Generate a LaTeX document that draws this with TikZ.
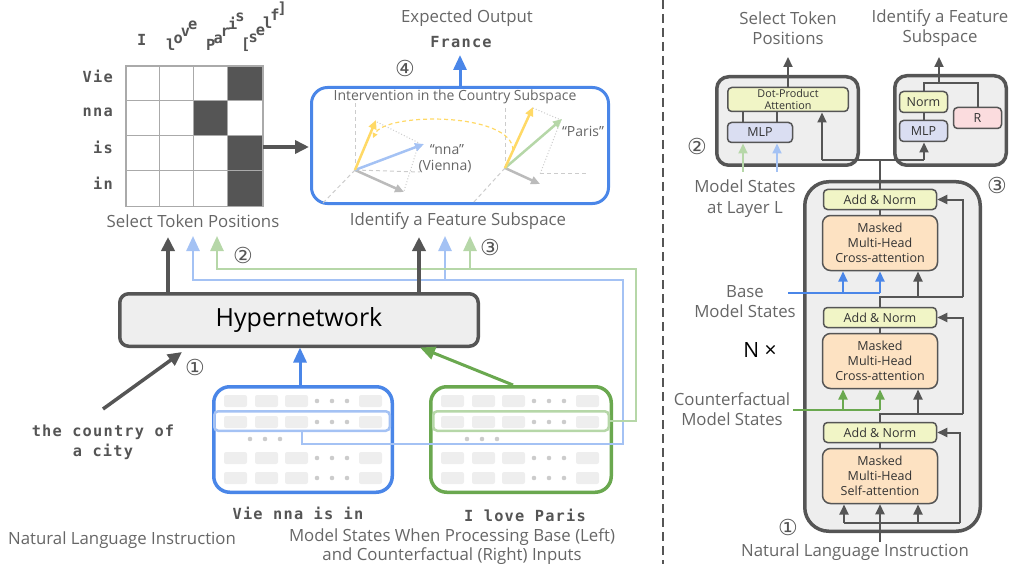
\documentclass[tikz,border=0pt]{standalone}
\usepackage{fontspec}
\setmainfont{Open Sans}
\newfontfamily\monof[LetterSpace=8]{DejaVu Sans Mono}
\newfontfamily\symf{DejaVu Sans}
\usetikzlibrary{arrows.meta}
\definecolor{dg}{HTML}{555555}
\definecolor{tg}{HTML}{666666}
\definecolor{bl}{HTML}{4A86E8}
\definecolor{lbl}{HTML}{A4C2F4}
\definecolor{gr}{HTML}{6AA84F}
\definecolor{lgr}{HTML}{B6D7A8}
\definecolor{yl}{HTML}{FFD966}
\definecolor{boxbg}{HTML}{EEEEEE}
\definecolor{ylbox}{HTML}{F1F5C6}
\definecolor{mlpbox}{HTML}{DADEF2}
\definecolor{rbox}{HTML}{FBDCDE}
\definecolor{orbox}{HTML}{FDE2C2}
\definecolor{cellc}{HTML}{EEEEEE}
\definecolor{dotc}{HTML}{CCCCCC}
\definecolor{gridc}{HTML}{AAAAAA}
\definecolor{vecg}{HTML}{BBBBBB}
\definecolor{axc}{HTML}{CCCCCC}
\begin{document}
\begin{tikzpicture}[x=1pt,y=-1pt,
  lab/.style={text=tg,font=\fontsize{16.8}{20}\selectfont,align=center,inner sep=0pt},
  slab/.style={text=tg,font=\fontsize{14}{16}\selectfont,align=center,inner sep=0pt},
  mono/.style={text=dg,font=\monof\bfseries\fontsize{15.3}{20}\selectfont,align=center,inner sep=0pt},
  num/.style={text=dg,font=\symf\fontsize{22}{22}\selectfont,inner sep=0pt},
  bigbox/.style={draw=dg,line width=3.5pt,fill=boxbg,inner sep=0pt},
  blk/.style={draw=dg,line width=1.5pt,rounded corners=4pt,text=black!80,font=\fontsize{12.5}{15}\selectfont,align=center,inner sep=0pt},
  ylb/.style={blk,fill=ylbox},
  mlpb/.style={blk,fill=mlpbox},
  orb/.style={blk,fill=orbox,rounded corners=8pt},
  rb/.style={blk,fill=rbox},
  darr/.style={draw=dg,line width=3.5pt,-{Triangle[length=14pt,width=13pt]}},
  barr/.style={draw=bl,line width=3pt,-{Triangle[length=15pt,width=13pt]}},
  garr/.style={draw=gr,line width=3pt,-{Triangle[length=15pt,width=13pt]}},
  lbline/.style={draw=lbl,line width=2.5pt},
  lgline/.style={draw=lgr,line width=2.5pt},
  ltip/.style={-{Triangle[length=15pt,width=13pt]}},
  sarr/.style={draw=dg,line width=2pt,-{Triangle[length=10pt,width=9pt]}},
  stip/.style={line width=2pt,-{Triangle[length=10pt,width=9pt]}},
  sline/.style={draw=dg,line width=2pt},
  statebox/.style={line width=3.5pt,rounded corners=16pt,minimum height=105.5pt,inner sep=0pt},
  hrow/.style={line width=2.5pt,rounded corners=4pt,minimum width=175.5pt,minimum height=19.5pt,inner sep=0pt},
  cellb/.style={fill=cellc,rounded corners=2pt},
  axisl/.style={draw=axc,line width=1pt,dash pattern=on 4pt off 3pt},
  dotl/.style={draw=axc,line width=1pt,dash pattern=on 1pt off 2pt},
  vecl/.style={line width=2.5pt,-{Triangle[length=9pt,width=8pt]}},
  dch/.style={mono,anchor=base west}
]
\useasboundingbox (0,0) rectangle (1011,564);

% ---------------- grid ----------------
\fill[dg] (227.7,65.5) rectangle (262.3,100.5);
\fill[dg] (193.3,100.5) rectangle (227.7,135.5);
\fill[dg] (227.7,135.5) rectangle (262.3,205.5);
\foreach \x in {159.3,193.3,227.7} \draw[gridc,line width=1.5pt] (\x,65.5)--(\x,205.5);
\foreach \y in {100.5,135.5,170.5} \draw[gridc,line width=1.5pt] (125,\y)--(262.3,\y);
\node[draw=gridc,line width=1.5pt,minimum width=137.3pt,minimum height=140pt,inner sep=0pt,anchor=north west] (grid) at (125,65.5) {};
\node[mono,anchor=east] (rvie) at (113,76) {Vie};
\node[mono,anchor=east] (rnna) at (113,112) {nna};
\node[mono,anchor=east] (ris) at (113,147) {is};
\node[mono,anchor=east] (rin) at (113,183) {in};
% diagonal column labels (letters set along a 45 degree line)
\node[dch] (ci) at (137,46) {I};
\foreach \c [count=\i from 0] in {l,o,v,e}
  \node[dch,name=clove\i] at ({166+7.3*\i},{51-7.3*\i}) {\c};
\foreach \c [count=\i from 0] in {P,a,r,i,s}
  \node[dch,name=cparis\i] at ({206+7.3*\i},{51-7.3*\i}) {\c};
\foreach \c [count=\i from 0] in {{[},s,e,l,f,{]}}
  \node[dch,name=cself\i] at ({241+7.3*\i},{50-7.3*\i}) {\c};
\node[lab] (selt) at (193,221) {Select Token Positions};

% ---------------- intervention ----------------
\node[draw=bl,line width=3pt,rounded corners=16pt,minimum width=297pt,minimum height=116pt,inner sep=0pt] (interv) at (460,145.5) {};
\node[slab] (ititle) at (455,97) {Intervention in the Country Subspace};
\node[lab] (idt) at (458,221) {Identify a Feature Subspace};
\node[lab] (expo) at (467,18) {Expected Output};
\node[mono] (france) at (461,42) {France};
\node[num] (n4) at (405,68) {④};
\draw[barr] (interv.north) -- (460,55);
\draw[darr] (263,147) -- (309,147);

% vectors left
\coordinate (o1) at (355,170);
\draw[axisl] (o1) -- (355,102);
\draw[axisl] (o1) -- (420,172);
\draw[axisl] (o1) -- (322,204);
\draw[dotl] (377,122) -- (419,143) -- (404,191);
\draw[vecl,vecg] (o1) -- (404,192);
\draw[vecl,lbl] (o1) -- (424,144);
\draw[vecl,yl] (o1) -- (376,120);
% vectors right
\coordinate (o2) at (505,168);
\draw[axisl] (o2) -- (505,106);
\draw[axisl] (o2) -- (473,203);
\draw[axisl] (540,174) -- (588,174);
\draw[dotl] (533,108) -- (561,120) -- (540,174);
\draw[vecl,vecg] (o2) -- (540,184);
\draw[vecl,lgr] (o2) -- (562,119);
\draw[vecl,yl] (o2) -- (533,107);
\draw[yl,line width=1.2pt,dash pattern=on 4pt off 3pt,-{Triangle[length=5pt,width=5pt]}] (513,150) .. controls (512,112) and (385,112) .. (373,138);
\node[slab] (lnna) at (447,150) {“nna”};
\node[slab] (lvie) at (445,166) {(Vienna)};
\node[slab] (lpar) at (583,131) {“Paris”};

% ---------------- hypernetwork ----------------
\node[bigbox,rounded corners=9pt,minimum width=358.5pt,minimum height=52.5pt,font=\fontsize{25}{30}\selectfont,text=black] (hyper) at (299,320) {Hypernetwork};

% state boxes
\node[statebox,draw=bl,minimum width=178.5pt] (base) at (303,439.5) {};
\node[statebox,draw=gr,minimum width=180.5pt] (cf) at (521,439.5) {};
\foreach \dx in {0,217} {
  \foreach \y in {401,422,458,478} {
    \foreach \x in {224,255,285,359} \fill[cellb] (\x+\dx,\y-6) rectangle ++(23,12);
    \foreach \x in {317,332,347} \fill[dotc] (\x+\dx,\y) circle (2.3pt);
  }
  \foreach \x in {250,265,280} \fill[dotc] (\x+\dx,439) circle (2.3pt);
}
\node[hrow,draw=lbl] (brow) at (302,421) {};
\node[hrow,draw=lgr] (crow) at (521,421) {};

% light connectors
\draw[lbline,ltip] (brow.south) -- (302,444) -- (623,444) -- (623,280) -- (193,280) -- (193,236);
\draw[lbline,ltip] (445,280) -- (445,236);
\draw[lgline,ltip] (crow.east) -- (636,421) -- (636,269) -- (217,269) -- (217,236);
\draw[lgline,ltip] (470,269) -- (470,236);
\draw[darr] (168,294) -- (168,237);
\draw[darr] (419,294) -- (419,237);
\draw[barr] (300,385) -- (300,347.5);
\draw[garr] (513,385) -- (420,347.5);
\node[num] (n2) at (243,255) {②};
\node[num] (n3) at (490,247) {③};

\node[mono] (vtxt) at (298,513) {Vie nna is in};
\node[mono] (itxt) at (525,515) {I love Paris};
\node[lab,font=\fontsize{16.8}{19}\selectfont] (mst) at (452,546.5) {Model States When Processing Base (Left)\\and Counterfactual (Right) Inputs};
\node[lab,anchor=west] (nli) at (8,540) {Natural Language Instruction};
\node[mono] (instr) at (103,442) {the country of\\a city};
\coordinate (instrtop) at (103,409);
\draw[darr] (instrtop) -- (182,352);
\node[num] (n1) at (195,367) {①};

% separator
\draw[dg,line width=1.5pt,dash pattern=on 9pt off 5pt] (663,0) -- (663,564);

% ---------------- right panel ----------------
\node[lab] (rsel) at (788,28) {Select Token\\Positions};
\node[lab] (rid) at (940,28) {Identify a Feature\\Subspace};

\node[bigbox,rounded corners=12pt,minimum width=141.5pt,minimum height=88.5pt] (lbx) at (787.5,121) {};
\node[ylb,minimum width=120.5pt,minimum height=24pt,font=\fontsize{10.8}{12}\selectfont] (dpa) at (788,99.5) {Dot-Product\\Attention};
\node[mlpb,minimum width=65pt,minimum height=20pt] (mlp1) at (760,132.5) {MLP};
\draw[sline] (743,122) -- (743,112);
\draw[sline] (777,122) -- (777,112);
\draw[sarr] (dpa.north) -- (788,57);
\draw[stip,lgr] (743,172) -- (743,143.5);
\draw[stip,lbl] (777,172) -- (777,143.5);
\node[num] (rn2) at (697,146) {②};
\node[lab,font=\fontsize{16.8}{21}\selectfont] (rms) at (745,199) {Model States\\at Layer L};

\node[bigbox,rounded corners=12pt,minimum width=111.5pt,minimum height=89.5pt] (rbx) at (950.5,120.5) {};
\node[ylb,minimum width=48pt,minimum height=21pt] (norm) at (923.5,102) {Norm};
\node[mlpb,minimum width=48pt,minimum height=21pt] (mlp2) at (923.5,131) {MLP};
\node[rb,minimum width=48pt,minimum height=21pt] (rr) at (977.5,118) {R};
\draw[sline] (mlp2.north) -- (norm.south);
\draw[sline] (norm.north) -- (923.5,83) -- (977.5,83) -- (rr.north);
\draw[sarr] (939,83) -- (939,57);

\node[bigbox,rounded corners=24pt,minimum width=175.5pt,minimum height=349.5pt] (tb) at (892.5,356.5) {};
\node[ylb,minimum width=113pt,minimum height=20pt] (an1) at (880,199.5) {Add \& Norm};
\node[orb,minimum width=115pt,minimum height=55pt] (ca1) at (880,243) {Masked\\Multi-Head\\Cross-attention};
\node[ylb,minimum width=113pt,minimum height=20pt] (an2) at (880,317.5) {Add \& Norm};
\node[orb,minimum width=115pt,minimum height=55pt] (ca2) at (880,361) {Masked\\Multi-Head\\Cross-attention};
\node[ylb,minimum width=113pt,minimum height=20pt] (an3) at (880,432.5) {Add \& Norm};
\node[orb,minimum width=115pt,minimum height=55pt] (sa) at (880,476) {Masked\\Multi-Head\\Self-attention};
\draw[sline] (ca1.north) -- (an1.south);
\draw[sline] (ca2.north) -- (an2.south);
\draw[sline] (sa.north) -- (an3.south);

\draw[sline] (an1.north) -- (880,160);
\draw[sline] (822,160) -- (924,160);
\draw[sarr] (822,160) -- (822,112.5);
\draw[sarr] (924,160) -- (924,142.5);

\draw[sline] (an2.north) -- (880,297) -- (963,297);
\draw[sarr] (963,297) -- (963,199.5) -- (an1.east);
\draw[sarr] (918,297) -- (918,271.5);
\draw[bl,line width=2pt] (788,293) -- (880,293);
\draw[stip,bl] (843,293) -- (843,271.5);
\draw[stip,bl] (880,293) -- (880,271.5);

\draw[sline] (an3.north) -- (880,414) -- (963,414);
\draw[sarr] (963,414) -- (963,317.5) -- (an2.east);
\draw[sarr] (918,414) -- (918,389.5);
\draw[gr,line width=2pt] (793,410) -- (880,410);
\draw[stip,gr] (843,410) -- (843,389.5);
\draw[stip,gr] (880,410) -- (880,389.5);

\draw[sline] (844,523) -- (960,523);
\draw[sarr] (960,523) -- (960,432.5) -- (an3.east);
\draw[sarr] (844,523) -- (844,504.5);
\draw[sarr] (918,523) -- (918,504.5);
\coordinate (nlitop) at (880,542);
\draw[sarr] (nlitop) -- (sa.south);

\node[lab] (rbase) at (745,302) {Base\\Model States};
\node[text=black,font=\fontsize{21}{24}\selectfont,inner sep=0pt] (nx) at (760,350) {N ×};
\node[lab] (rcf) at (732,409) {Counterfactual\\Model States};
\node[num] (rn3) at (997,185) {③};
\node[num] (rn1) at (788,527) {①};
\node[lab] (rnli) at (855,552) {Natural Language Instruction};
\end{tikzpicture}
\end{document}
